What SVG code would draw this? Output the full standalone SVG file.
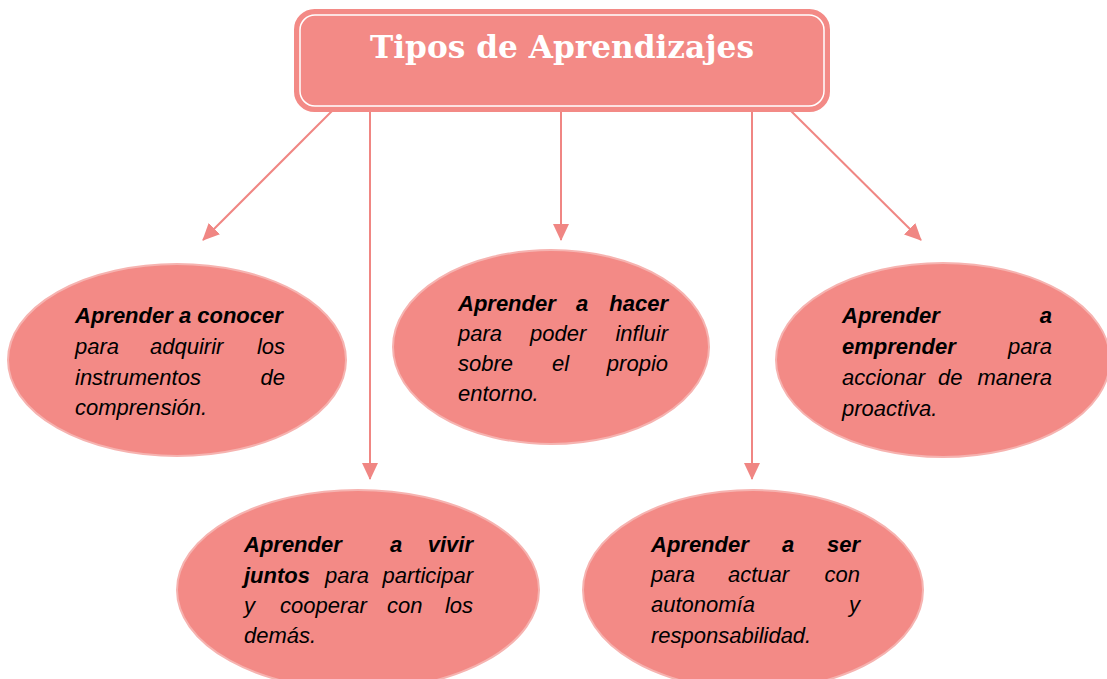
<svg xmlns="http://www.w3.org/2000/svg" width="1107" height="679" viewBox="0 0 1107 679">
<defs>
<style>
.node{fill:#F38A86;stroke:#F6B3B0;stroke-width:2}
.t{font-family:"Liberation Sans",Arial,sans-serif;font-size:22px;font-style:italic;fill:#000}
.b{font-weight:bold}
.e{text-anchor:end}
.con{stroke:#F08683;stroke-width:2;fill:none}
.title{font-family:"DejaVu Serif","Liberation Serif",serif;font-weight:bold;font-size:31px;fill:#fff}
</style>
<marker id="arr" markerWidth="18" markerHeight="16" refX="16" refY="8" orient="auto" markerUnits="userSpaceOnUse">
<path d="M0,0 L17,8 L0,16 z" fill="#F08683"/>
</marker>
</defs>
<rect width="1107" height="679" fill="#fff"/>

<g id="connectors">
<line class="con" x1="333" y1="110" x2="203" y2="240" marker-end="url(#arr)"/>
<line class="con" x1="370" y1="110" x2="370" y2="479" marker-end="url(#arr)"/>
<line class="con" x1="561" y1="110" x2="561" y2="240" marker-end="url(#arr)"/>
<line class="con" x1="752" y1="110" x2="752" y2="479" marker-end="url(#arr)"/>
<line class="con" x1="790" y1="110" x2="921" y2="240" marker-end="url(#arr)"/>
</g>

<g id="title">
<rect x="295.5" y="10.5" width="533" height="100" rx="19" fill="#F38A86" stroke="#F38A86" stroke-width="3"/>
<rect x="300" y="15" width="524" height="91" rx="15" fill="none" stroke="#fff" stroke-width="1.5"/>
<text class="title" x="370" y="58" textLength="384" lengthAdjust="spacingAndGlyphs">Tipos de Aprendizajes</text>
</g>

<g id="conocer">
<ellipse class="node" cx="177" cy="360" rx="169" ry="96"/>
<text class="t"><tspan class="b" x="75" y="323">Aprender a conocer</tspan></text>
<text class="t" y="354"><tspan x="75">para</tspan><tspan x="150">adquirir</tspan></text>
<text class="t e" x="285" y="354">los</text>
<text class="t" x="75" y="385">instrumentos</text>
<text class="t e" x="285" y="385">de</text>
<text class="t" x="75" y="415">comprensión.</text>
</g>

<g id="hacer">
<ellipse class="node" cx="551" cy="347" rx="158" ry="97"/>
<text class="t b" y="311"><tspan x="458">Aprender</tspan><tspan x="576">a</tspan></text>
<text class="t b e" x="668" y="311">hacer</text>
<text class="t" y="341"><tspan x="458">para</tspan><tspan x="530">poder</tspan></text>
<text class="t e" x="668" y="341">influir</text>
<text class="t" y="371"><tspan x="458">sobre</tspan><tspan x="552">el</tspan></text>
<text class="t e" x="668" y="371">propio</text>
<text class="t" x="458" y="401">entorno.</text>
</g>

<g id="emprender">
<ellipse class="node" cx="943" cy="360" rx="167" ry="97"/>
<text class="t b" x="842" y="323">Aprender</text>
<text class="t b e" x="1052" y="323">a</text>
<text class="t b" x="842" y="354">emprender</text>
<text class="t e" x="1052" y="354">para</text>
<text class="t" y="385"><tspan x="842">accionar</tspan><tspan x="938">de</tspan></text>
<text class="t e" x="1052" y="385">manera</text>
<text class="t" x="842" y="416">proactiva.</text>
</g>

<g id="vivir">
<ellipse class="node" cx="358" cy="590" rx="181" ry="100"/>
<text class="t b" y="552"><tspan x="244">Aprender</tspan><tspan x="390">a</tspan></text>
<text class="t b e" x="473" y="552">vivir</text>
<text class="t" y="583"><tspan class="b" x="244">juntos</tspan><tspan x="325">para</tspan></text>
<text class="t e" x="473" y="583">participar</text>
<text class="t" y="613"><tspan x="244">y</tspan><tspan x="280">cooperar</tspan><tspan x="387">con</tspan></text>
<text class="t e" x="473" y="613">los</text>
<text class="t" x="244" y="643">demás.</text>
</g>

<g id="ser">
<ellipse class="node" cx="753" cy="590" rx="170" ry="100"/>
<text class="t b" y="552"><tspan x="651">Aprender</tspan><tspan x="782">a</tspan></text>
<text class="t b e" x="860" y="552">ser</text>
<text class="t" y="582"><tspan x="651">para</tspan><tspan x="728">actuar</tspan></text>
<text class="t e" x="860" y="582">con</text>
<text class="t" x="651" y="612">autonomía</text>
<text class="t e" x="860" y="612">y</text>
<text class="t" x="651" y="643">responsabilidad.</text>
</g>
</svg>
